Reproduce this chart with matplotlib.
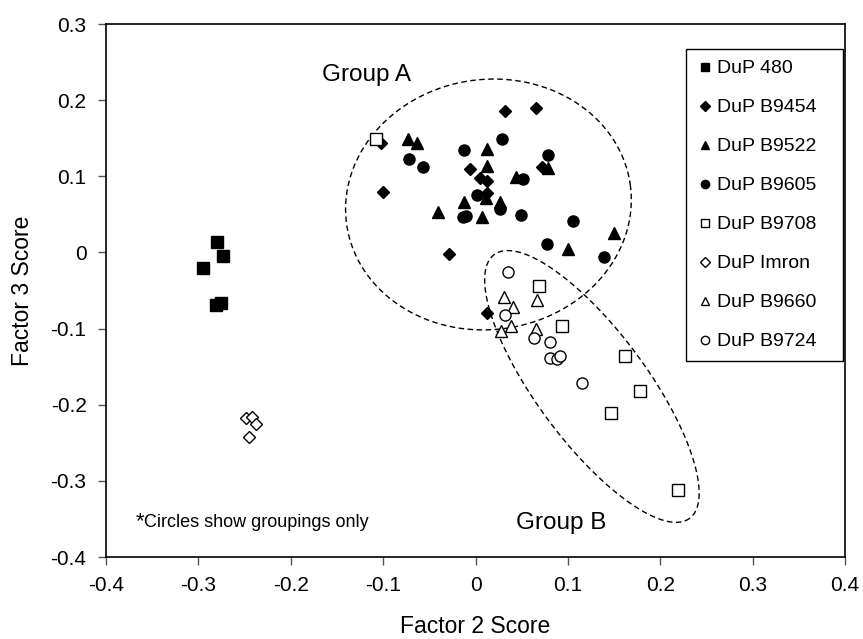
import numpy as np
import matplotlib.pyplot as plt

plt.rcParams['font.family'] = ['Liberation Sans', 'DejaVu Sans']

# Factor 2 / Factor 3 scores
dup480_x = [-0.280, -0.273, -0.295, -0.281, -0.275]
dup480_y = [0.014, -0.005, -0.020, -0.069, -0.066]

b9454_x = [0.032, 0.065, -0.102, -0.006, 0.072, 0.005, 0.012, -0.100, 0.012, -0.029, 0.012]
b9454_y = [0.186, 0.190, 0.144, 0.110, 0.112, 0.098, 0.094, 0.079, 0.078, -0.002, -0.080]

b9522_x = [-0.073, -0.063, 0.012, 0.012, 0.079, 0.044, 0.011, -0.013, 0.027, -0.041, 0.007, 0.150, 0.100]
b9522_y = [0.149, 0.144, 0.136, 0.114, 0.111, 0.099, 0.071, 0.066, 0.066, 0.053, 0.047, 0.026, 0.005]

b9605_x = [0.029, -0.012, 0.078, -0.072, -0.057, 0.051, 0.002, 0.027, -0.014, -0.010, 0.049, 0.106, 0.077, 0.139]
b9605_y = [0.149, 0.135, 0.128, 0.123, 0.112, 0.096, 0.075, 0.057, 0.047, 0.048, 0.049, 0.041, 0.011, -0.006]

b9708_x = [-0.108, 0.069, 0.094, 0.162, 0.178, 0.147, 0.219]
b9708_y = [0.149, -0.044, -0.097, -0.136, -0.182, -0.211, -0.312]

imron_x = [-0.248, -0.242, -0.238, -0.245]
imron_y = [-0.217, -0.216, -0.225, -0.242]

b9660_x = [0.067, 0.031, 0.041, 0.038, 0.028, 0.065]
b9660_y = [-0.062, -0.059, -0.071, -0.096, -0.103, -0.100]

b9724_x = [0.035, 0.032, 0.063, 0.081, 0.081, 0.088, 0.091, 0.115]
b9724_y = [-0.026, -0.082, -0.112, -0.118, -0.139, -0.140, -0.136, -0.171]

series = [
    ("DuP 480", dup480_x, dup480_y, "s", True),
    ("DuP B9454", b9454_x, b9454_y, "D", True),
    ("DuP B9522", b9522_x, b9522_y, "^", True),
    ("DuP B9605", b9605_x, b9605_y, "o", True),
    ("DuP B9708", b9708_x, b9708_y, "s", False),
    ("DuP Imron", imron_x, imron_y, "D", False),
    ("DuP B9660", b9660_x, b9660_y, "^", False),
    ("DuP B9724", b9724_x, b9724_y, "o", False),
]
sizes = {"s": 8, "D": 6.5, "^": 8, "o": 8}

# grouping ellipses: centre (data), semi-axes (px), tilt (deg, clockwise)
groupA = dict(cx=0.014, cy=0.063, a=143, b=125, tilt=-8)
groupB = dict(cx=0.126, cy=-0.176, a=164, b=55, tilt=53.5)
px_x, px_y = 922.5, 761.0  # pixels per data unit on the figure

fig = plt.figure(figsize=(8.63, 6.39), dpi=100)
ax = fig.add_axes([0.1228, 0.1283, 0.8564, 0.8341])

for label, xs, ys, m, filled in series:
    ax.plot(xs, ys, linestyle='none', marker=m, markersize=sizes[m],
            markerfacecolor='black' if filled else 'white',
            markeredgecolor='black', markeredgewidth=1.0, label=label)


def draw_ellipse(cx, cy, a, b, tilt):
    t = np.linspace(0, 2 * np.pi, 400)
    th = np.radians(tilt)
    dx = a * np.cos(t) * np.cos(th) - b * np.sin(t) * np.sin(th)
    dy = a * np.cos(t) * np.sin(th) + b * np.sin(t) * np.cos(th)
    ax.plot(cx + dx / px_x, cy - dy / px_y, color='black', lw=1.0,
            linestyle=(0, (4, 2.5)), zorder=1)


draw_ellipse(**groupA)
draw_ellipse(**groupB)

ax.text(-0.166, 0.233, "Group A", fontsize=17.5, va='center', ha='left')
ax.text(0.093, -0.355, "Group B", fontsize=17.5, va='center', ha='center')
ax.text(-0.368, -0.353, "*", fontsize=16, va='center', ha='left')
ax.text(-0.359, -0.355, "Circles show groupings only", fontsize=13,
        va='center', ha='left')

ax.set_xlim(-0.4, 0.4)
ax.set_ylim(-0.4, 0.3)
ax.set_xticks(np.arange(-0.4, 0.41, 0.1))
ax.set_yticks(np.arange(-0.4, 0.31, 0.1))
ax.set_xticklabels(['-0.4', '-0.3', '-0.2', '-0.1', '0', '0.1', '0.2', '0.3', '0.4'])
ax.set_yticklabels(['-0.4', '-0.3', '-0.2', '-0.1', '0', '0.1', '0.2', '0.3'])
ax.tick_params(direction='out', length=6, width=1, labelsize=15, color='#555555', pad=8)
for s in ax.spines.values():
    s.set_linewidth(1.2)

ax.set_xlabel("Factor 2 Score", fontsize=16.5, labelpad=14)
ax.set_ylabel("Factor 3 Score", fontsize=16.5, labelpad=12)

leg = ax.legend(loc='upper left', bbox_to_anchor=(0.785, 0.0, 0.2125, 0.953),
                mode='expand', fontsize=14, markerscale=0.75,
                handletextpad=0.25, labelspacing=1.1, borderpad=0.55,
                fancybox=False, framealpha=1, edgecolor='black',
                handlelength=0.8, borderaxespad=0)
leg.get_frame().set_linewidth(1.0)

fig.savefig("out.png", dpi=100)
